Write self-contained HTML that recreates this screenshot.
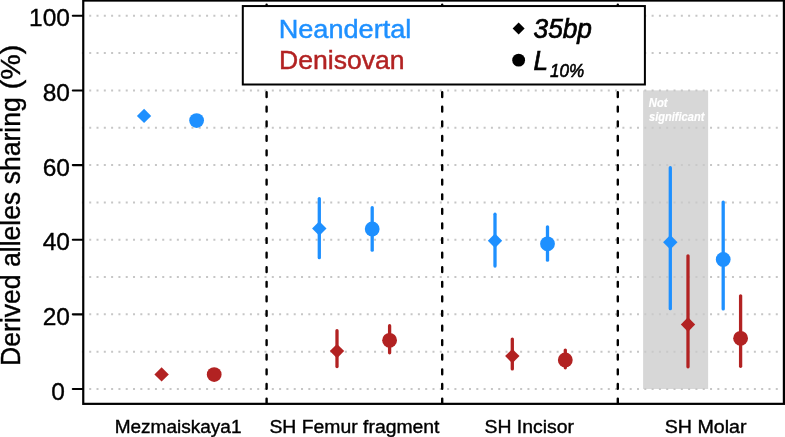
<!DOCTYPE html>
<html><head><meta charset="utf-8"><title>Derived alleles sharing</title>
<style>
html,body{margin:0;padding:0;background:#fff;}
body{width:785px;height:437px;overflow:hidden;font-family:"Liberation Sans",sans-serif;}
svg{display:block;will-change:transform;}
text{font-family:"Liberation Sans",sans-serif;}
</style></head><body>
<svg width="785" height="437" viewBox="0 0 785 437">
<rect x="0" y="0" width="785" height="437" fill="#fff"/>
<g stroke="#C6C6C6" stroke-width="2" stroke-dasharray="2 5.304" fill="none">
<line x1="81.9" x2="783" y1="389.00" y2="389.00"/>
<line x1="81.9" x2="783" y1="351.68" y2="351.68"/>
<line x1="81.9" x2="783" y1="314.36" y2="314.36"/>
<line x1="81.9" x2="783" y1="277.04" y2="277.04"/>
<line x1="81.9" x2="783" y1="239.72" y2="239.72"/>
<line x1="81.9" x2="783" y1="202.40" y2="202.40"/>
<line x1="81.9" x2="783" y1="165.08" y2="165.08"/>
<line x1="81.9" x2="783" y1="127.76" y2="127.76"/>
<line x1="81.9" x2="783" y1="90.44" y2="90.44"/>
<line x1="81.9" x2="783" y1="53.12" y2="53.12"/>
<line x1="81.9" x2="783" y1="15.80" y2="15.80"/>
</g>
<rect x="643.1" y="90.4" width="65" height="298.6" fill="rgb(201,201,201)" fill-opacity="0.746"/>
<g stroke="#000" stroke-width="2.4" stroke-linecap="round" stroke-dasharray="4.8 9.79" fill="none">
<line x1="266.6" x2="266.6" y1="4.66" y2="403"/>
<line x1="442.2" x2="442.2" y1="4.66" y2="403"/>
<line x1="617.8" x2="617.8" y1="4.66" y2="403"/>
</g>
<text x="648.78" y="107.0" font-size="12.8" fill="#fff" stroke="#fff" stroke-width="0.2" textLength="18.85" lengthAdjust="spacingAndGlyphs" font-weight="bold" font-style="italic">Not</text>
<text x="649.00" y="121.2" font-size="12.8" fill="#fff" stroke="#fff" stroke-width="0.2" textLength="55.37" lengthAdjust="spacingAndGlyphs" font-weight="bold" font-style="italic">significant</text>
<path d="M136.9 115.9L144.1 108.7L151.2 115.9L144.1 123.1Z" fill="#1E90FF"/>
<circle cx="196.6" cy="120.6" r="7.4" fill="#1E90FF"/>
<path d="M154.4 374.4L161.6 367.2L168.8 374.4L161.6 381.6Z" fill="#B22222"/>
<circle cx="214.2" cy="374.6" r="7.4" fill="#B22222"/>
<line x1="319.3" x2="319.3" y1="198.55" y2="257.65" stroke="#1E90FF" stroke-width="3.3" stroke-linecap="round"/>
<path d="M312.1 228.5L319.3 221.3L326.5 228.5L319.3 235.7Z" fill="#1E90FF"/>
<line x1="372.2" x2="372.2" y1="207.65" y2="250.15" stroke="#1E90FF" stroke-width="3.3" stroke-linecap="round"/>
<circle cx="372.2" cy="229.0" r="7.4" fill="#1E90FF"/>
<line x1="337.0" x2="337.0" y1="330.75" y2="366.55" stroke="#B22222" stroke-width="3.3" stroke-linecap="round"/>
<path d="M329.8 351.1L337.0 343.9L344.2 351.1L337.0 358.3Z" fill="#B22222"/>
<line x1="389.6" x2="389.6" y1="325.65" y2="352.85" stroke="#B22222" stroke-width="3.3" stroke-linecap="round"/>
<circle cx="389.6" cy="340.3" r="7.4" fill="#B22222"/>
<line x1="495.0" x2="495.0" y1="214.25" y2="266.05" stroke="#1E90FF" stroke-width="3.3" stroke-linecap="round"/>
<path d="M487.8 240.8L495.0 233.6L502.2 240.8L495.0 248.0Z" fill="#1E90FF"/>
<line x1="547.5" x2="547.5" y1="226.85" y2="260.15" stroke="#1E90FF" stroke-width="3.3" stroke-linecap="round"/>
<circle cx="547.5" cy="243.8" r="7.4" fill="#1E90FF"/>
<line x1="512.3" x2="512.3" y1="339.05" y2="368.95" stroke="#B22222" stroke-width="3.3" stroke-linecap="round"/>
<path d="M505.1 356.1L512.3 348.9L519.5 356.1L512.3 363.3Z" fill="#B22222"/>
<line x1="565.3" x2="565.3" y1="350.05" y2="367.85" stroke="#B22222" stroke-width="3.3" stroke-linecap="round"/>
<circle cx="565.3" cy="359.9" r="7.4" fill="#B22222"/>
<line x1="670.3" x2="670.3" y1="167.65" y2="308.65" stroke="#1E90FF" stroke-width="3.3" stroke-linecap="round"/>
<path d="M663.1 242.2L670.3 235.0L677.5 242.2L670.3 249.4Z" fill="#1E90FF"/>
<line x1="723.2" x2="723.2" y1="202.05" y2="308.95" stroke="#1E90FF" stroke-width="3.3" stroke-linecap="round"/>
<circle cx="723.2" cy="259.4" r="7.4" fill="#1E90FF"/>
<line x1="688.0" x2="688.0" y1="255.85" y2="366.75" stroke="#B22222" stroke-width="3.3" stroke-linecap="round"/>
<path d="M680.8 324.5L688.0 317.3L695.2 324.5L688.0 331.7Z" fill="#B22222"/>
<line x1="740.6" x2="740.6" y1="295.85" y2="366.25" stroke="#B22222" stroke-width="3.3" stroke-linecap="round"/>
<circle cx="740.6" cy="338.3" r="7.4" fill="#B22222"/>
<rect x="83.25" y="0.55" width="700.65" height="403.3" fill="none" stroke="#000" stroke-width="2.2"/>
<line x1="72.8" x2="83" y1="389.00" y2="389.00" stroke="#000" stroke-width="2.1" stroke-linecap="round"/>
<text x="64.9" y="399.6" font-size="24.5" text-anchor="end" fill="#000" stroke="#000" stroke-width="0.35">0</text>
<line x1="72.8" x2="83" y1="314.36" y2="314.36" stroke="#000" stroke-width="2.1" stroke-linecap="round"/>
<text x="70.0" y="325.0" font-size="24.5" text-anchor="end" fill="#000" stroke="#000" stroke-width="0.35">20</text>
<line x1="72.8" x2="83" y1="239.72" y2="239.72" stroke="#000" stroke-width="2.1" stroke-linecap="round"/>
<text x="70.0" y="250.3" font-size="24.5" text-anchor="end" fill="#000" stroke="#000" stroke-width="0.35">40</text>
<line x1="72.8" x2="83" y1="165.08" y2="165.08" stroke="#000" stroke-width="2.1" stroke-linecap="round"/>
<text x="70.0" y="175.7" font-size="24.5" text-anchor="end" fill="#000" stroke="#000" stroke-width="0.35">60</text>
<line x1="72.8" x2="83" y1="90.44" y2="90.44" stroke="#000" stroke-width="2.1" stroke-linecap="round"/>
<text x="70.0" y="101.0" font-size="24.5" text-anchor="end" fill="#000" stroke="#000" stroke-width="0.35">80</text>
<line x1="72.8" x2="83" y1="15.80" y2="15.80" stroke="#000" stroke-width="2.1" stroke-linecap="round"/>
<text x="70.0" y="26.4" font-size="24.5" text-anchor="end" fill="#000" stroke="#000" stroke-width="0.35">100</text>
<g transform="translate(20.1,364.0) rotate(-90)"><text x="-1.93" y="0.0" font-size="27.6" fill="#000" stroke="#000" stroke-width="0.4" textLength="268.72" lengthAdjust="spacingAndGlyphs">Derived alleles sharing</text></g>
<g transform="translate(20.1,87.8) rotate(-90)"><text x="-1.56" y="0.0" font-size="27.6" fill="#000" stroke="#000" stroke-width="0.4" textLength="44.64" lengthAdjust="spacingAndGlyphs">(%)</text></g>
<text x="114.65" y="432.5" font-size="19.1" fill="#000" stroke="#000" stroke-width="0.4" textLength="126.89" lengthAdjust="spacingAndGlyphs">Mezmaiskaya1</text>
<text x="269.44" y="432.5" font-size="19.1" fill="#000" stroke="#000" stroke-width="0.4" textLength="170.07" lengthAdjust="spacingAndGlyphs">SH Femur fragment</text>
<text x="484.54" y="432.5" font-size="19.1" fill="#000" stroke="#000" stroke-width="0.4" textLength="89.44" lengthAdjust="spacingAndGlyphs">SH Incisor</text>
<text x="664.73" y="432.5" font-size="19.1" fill="#000" stroke="#000" stroke-width="0.4" textLength="81.75" lengthAdjust="spacingAndGlyphs">SH Molar</text>
<rect x="242.8" y="6.05" width="402.1" height="78.45" fill="#fff" stroke="#000" stroke-width="2"/>
<text x="278.65" y="38.0" font-size="26.5" fill="#1E90FF" stroke="#1E90FF" stroke-width="0.45" textLength="132.73" lengthAdjust="spacingAndGlyphs">Neandertal</text>
<text x="278.99" y="69.2" font-size="26.5" fill="#B22222" stroke="#B22222" stroke-width="0.45" textLength="125.58" lengthAdjust="spacingAndGlyphs">Denisovan</text>
<path d="M512.6 28.55L518.6 22.5L524.6 28.55L518.6 34.6Z" fill="#000"/>
<circle cx="518.65" cy="60.15" r="6.4" fill="#000"/>
<text x="533.56" y="37.8" font-size="26.9" fill="#000" stroke="#000" stroke-width="0.7" textLength="58.41" lengthAdjust="spacingAndGlyphs" font-style="italic">35bp</text>
<text x="533.52" y="70.0" font-size="26.9" fill="#000" stroke="#000" stroke-width="0.7" textLength="14.51" lengthAdjust="spacingAndGlyphs" font-style="italic">L</text>
<text x="549.97" y="77.0" font-size="18.6" fill="#000" stroke="#000" stroke-width="0.6" textLength="34.16" lengthAdjust="spacingAndGlyphs" font-style="italic">10%</text>
</svg>
</body></html>
